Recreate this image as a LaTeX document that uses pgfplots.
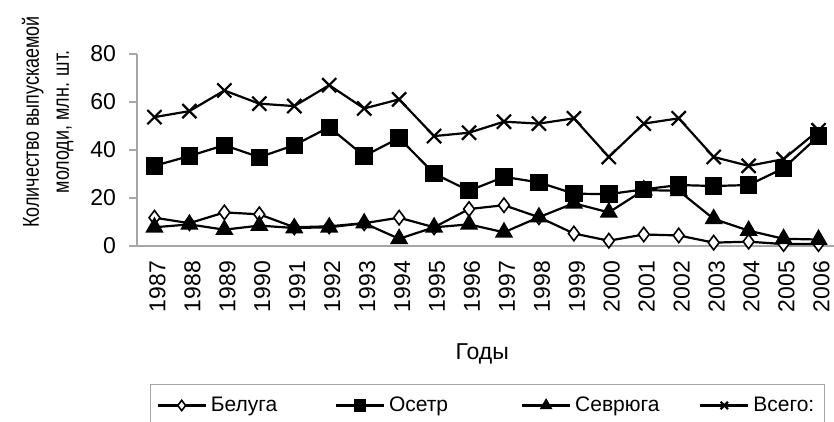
\documentclass[border=0pt]{standalone}
\usepackage{pgfplots}
\pgfplotsset{compat=1.18}
\usepackage{fontspec}
\setmainfont{Liberation Sans}

\begin{document}
\begin{tikzpicture}
\begin{axis}[
    scale only axis,
    width=349.5pt, height=96pt,
    xmin=1986.5, xmax=2006.5,
    ymin=0, ymax=80,
    axis x line=bottom, axis y line=left,
    axis line style={-, gray!70, line width=0.8pt},
    xtick={1987,...,2006},
    xticklabels={1987,1988,1989,1990,1991,1992,1993,1994,1995,1996,1997,1998,1999,2000,2001,2002,2003,2004,2005,2006},
    x tick label style={rotate=90, anchor=east, yshift=-1.5pt, font=\fontsize{11.5}{12}\selectfont},
    extra x ticks={1987.5,1988.5,...,2005.5},
    extra x tick labels={},
    extra x tick style={major tick length=5pt, tick align=outside,
        tick style={gray!70, line width=0.6pt}},
    xtick style={draw=none},
    ytick={0,20,40,60,80},
    yticklabels={0,20,40,60,80},
    y tick label style={font=\fontsize{11.5}{12}\selectfont, xshift=-3pt},
    ytick style={gray!70, line width=0.6pt},
    tick align=outside, major tick length=4pt,
    xlabel={Годы},
    xlabel style={at={(axis description cs:0.494,-0.56)}, anchor=center, font=\fontsize{11.5}{12}\selectfont},
    ylabel={Количество выпускаемой\\молоди, млн. шт.},
    ylabel style={at={(axis description cs:-0.128,0.646)}, anchor=center, align=center,
        font=\fontsize{11.5}{15}\selectfont, xscale=0.78},
    legend columns=4,
    legend style={at={(axis description cs:0.0186,-0.719)}, anchor=north west,
        draw=gray!70, line width=0.6pt, font=\fontsize{10.5}{12}\selectfont,
        inner xsep=3pt, inner ysep=4pt,
        /tikz/every even column/.append style={column sep=0pt}},
    legend image code/.code={
        \draw[#1, mark repeat=2, mark phase=2, mark size=2.6pt] plot coordinates {(0pt,0pt) (12pt,0pt) (24pt,0pt)};},
    every axis plot/.append style={black, line width=1.1pt},
]

\addplot[mark=diamond*, mark options={fill=white, solid, line width=0.8pt}, mark size=3.6pt] coordinates {
    (1987, 11.8) (1988, 9.5) (1989, 14) (1990, 13.2) (1991, 7.8) (1992, 8.2)
    (1993, 9.5) (1994, 11.8) (1995, 7.8) (1996, 15.4) (1997, 17) (1998, 12)
    (1999, 5.2) (2000, 2.2) (2001, 4.8) (2002, 4.4) (2003, 1.4) (2004, 1.8)
    (2005, 0.8) (2006, 0.8)
};
\addlegendentry{\makebox[60pt][l]{Белуга}}

\addplot[mark=square*, mark size=3.8pt] coordinates {
    (1987, 33.4) (1988, 37.5) (1989, 42) (1990, 37) (1991, 42) (1992, 49.5)
    (1993, 37.5) (1994, 45) (1995, 30.2) (1996, 23) (1997, 28.8) (1998, 26.5)
    (1999, 21.8) (2000, 21.6) (2001, 23.6) (2002, 25.4) (2003, 25) (2004, 25.4)
    (2005, 32.4) (2006, 45.8)
};
\addlegendentry{\makebox[64pt][l]{Осетр}}

\addplot[mark=triangle*, mark size=4.2pt] coordinates {
    (1987, 7.8) (1988, 9) (1989, 6.8) (1990, 8.5) (1991, 7.5) (1992, 7.8)
    (1993, 9.5) (1994, 3) (1995, 7.8) (1996, 9) (1997, 5.7) (1998, 12)
    (1999, 17.8) (2000, 14) (2001, 23.3) (2002, 23) (2003, 11.3) (2004, 6.4)
    (2005, 3) (2006, 2.7)
};
\addlegendentry{\makebox[60pt][l]{Севрюга}}

\addplot[mark=x, mark size=5pt] coordinates {
    (1987, 53.7) (1988, 56.2) (1989, 64.8) (1990, 59.3) (1991, 58.3) (1992, 67)
    (1993, 57.3) (1994, 61.1) (1995, 45.8) (1996, 47.2) (1997, 51.8) (1998, 51)
    (1999, 53.2) (2000, 37.1) (2001, 51) (2002, 53.2) (2003, 37.1) (2004, 33.4)
    (2005, 36.2) (2006, 48.2)
};
\addlegendentry{Всего:}

\end{axis}
\pgfresetboundingbox
\path[use as bounding box] (-68.5pt,-88pt) rectangle (348.5pt,123pt);
\end{tikzpicture}
\end{document}
